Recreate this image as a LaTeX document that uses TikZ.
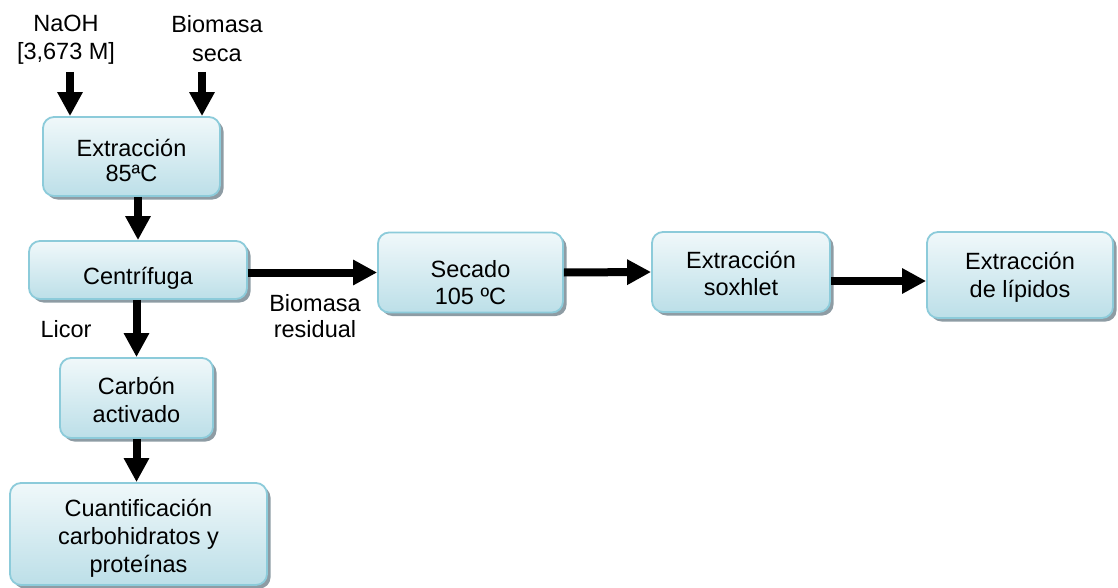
\documentclass[tikz,border=0pt]{standalone}
\usepackage{fontspec}
\setmainfont{Liberation Sans}
\usetikzlibrary{arrows.meta,shadows}
\definecolor{boxborder}{HTML}{8CCBDA}
\definecolor{boxtop}{HTML}{F0F8FA}
\definecolor{boxbot}{HTML}{BCDFE8}
\definecolor{boxshadow}{HTML}{8E9CA4}
\tikzset{
  procbox/.style={rounded corners=11pt, draw=boxborder, line width=1.8pt,
    top color=boxtop, bottom color=boxbot, inner sep=0pt,
    drop shadow={shadow xshift=3.5pt, shadow yshift=-3.5pt, fill=boxshadow, opacity=1}},
  lbl/.style={align=center, inner sep=0pt, font=\fontsize{23.5}{#1}\selectfont},
  lbl/.default=27,
  flow/.style={line width=8pt, -{Triangle[width=24pt,length=24pt]}}
}
\begin{document}
\begin{tikzpicture}[x=1pt,y=-1pt]
\useasboundingbox (0,0) rectangle (1118,588);
% boxes
\node[procbox, minimum width=177pt, minimum height=79pt] (ext) at (131.5,156.5) {};
\node[procbox, minimum width=218pt, minimum height=58pt] (cen) at (138,270) {};
\node[procbox, minimum width=153pt, minimum height=80pt] (carb) at (136.5,398) {};
\node[procbox, minimum width=257pt, minimum height=102pt] (cuant) at (138.5,534) {};
\node[procbox, minimum width=185pt, minimum height=80pt] (sec) at (470.5,272.5) {};
\node[procbox, minimum width=178pt, minimum height=80pt] (sox) at (741,272) {};
\node[procbox, minimum width=186pt, minimum height=86pt] (lip) at (1020,275) {};
% box texts
\node[lbl=25] (exttxt) at (131.5,160.7) {Extracción\\85ªC};
\node[lbl] (centxt) at (138,278.6) {Centrífuga};
\node[lbl=28] (carbtxt) at (136.5,400.2) {Carbón\\activado};
\node[lbl=28] (cuanttxt) at (138.5,538.6) {Cuantificación\\carbohidratos y\\proteínas};
\node[lbl=27] (sectxt) at (470.5,282.9) {Secado\\105 ºC};
\node[lbl=27] (soxtxt) at (741,273) {Extracción\\soxhlet};
\node[lbl=28] (liptxt) at (1020,277.6) {Extracción\\de lípidos};
% labels
\node[lbl=28] (naoh) at (66,40) {NaOH\\{}[3,673 M]};
\node[lbl=29] (bioseca) at (217,38.5) {Biomasa\\seca};
\node[lbl] (licor) at (66,329) {Licor};
\node[lbl=26] (biores) at (315,316) {Biomasa\\residual};
% arrow start points
\coordinate (inA) at (70,72);
\coordinate (inB) at (202,72);
% connectors
\draw[flow] (inA) -- (inA |- ext.north);
\draw[flow] (inB) -- (inB |- ext.north);
\draw[flow] (cen.north |- ext.south) -- (cen.north);
\draw[flow] (carb.north |- cen.south) -- (carb.north);
\draw[flow] (carb.south) -- (carb.south |- cuant.north);
\draw[flow] ([yshift=-2.5pt]cen.east) -- ([yshift=-2.5pt]cen.east -| sec.west);
\draw[flow] (sec.east) -- (sox.west);
\draw[flow] ([yshift=-9pt]sox.east) -- ([yshift=-9pt]sox.east -| lip.west);
\end{tikzpicture}
\end{document}
